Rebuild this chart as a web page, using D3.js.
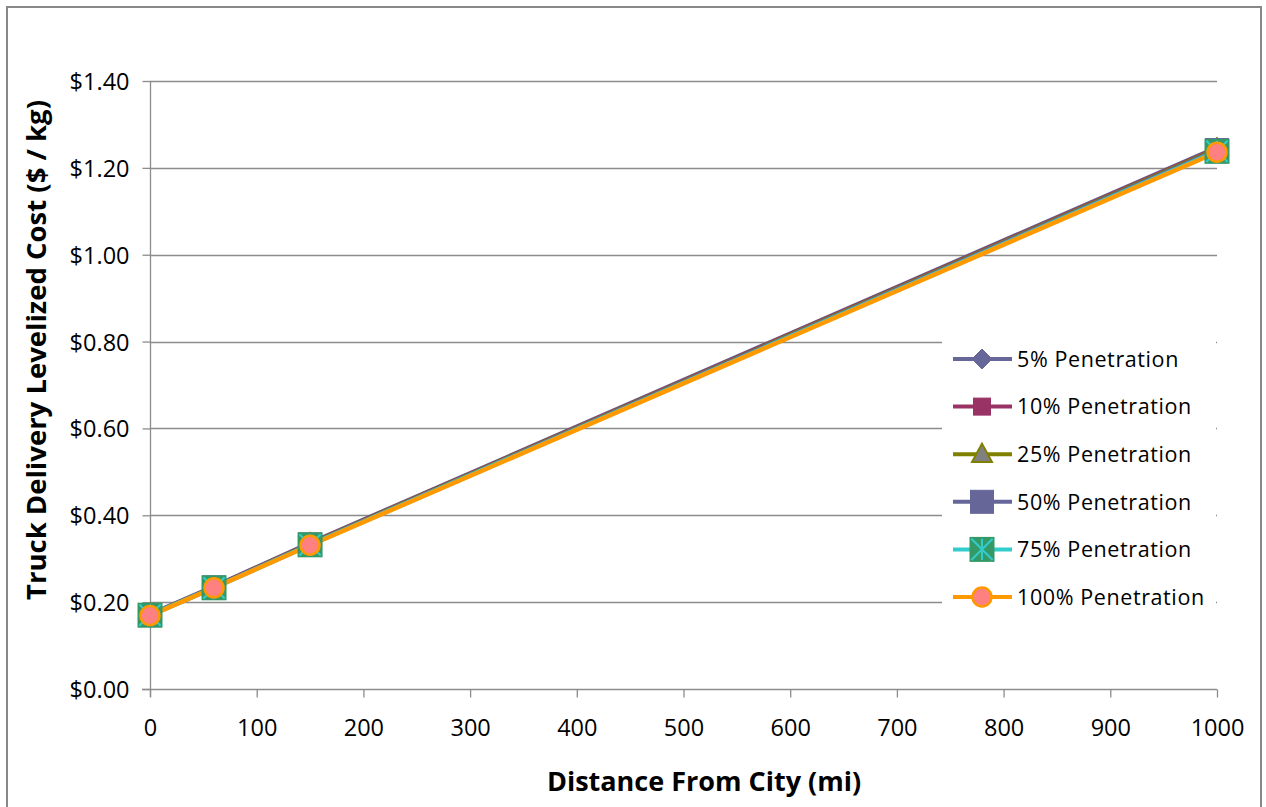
<!DOCTYPE html>
<html>
<head>
<meta charset="utf-8">
<script src="https://cdn.jsdelivr.net/npm/d3@7"></script>
<style>
  body { margin: 0; background: #fff; }
  svg { display: block; }
  text { font-family: "Open Sans", "Liberation Sans", sans-serif; fill: #000; }
</style>
</head>
<body>
<svg id="chart" width="1266" height="807"></svg>
<script>
// ---- data ----
const distances = [0, 60, 150, 1000];
const seriesNames = ["5% Penetration", "10% Penetration", "25% Penetration", "50% Penetration", "75% Penetration", "100% Penetration"];
const pen5   = [0.172, 0.236, 0.336, 1.247];
const pen10  = [0.171, 0.235, 0.335, 1.245];
const pen25  = [0.171, 0.234, 0.334, 1.243];
const pen50  = [0.170, 0.234, 0.333, 1.241];
const pen75  = [0.170, 0.233, 0.332, 1.238];
const pen100 = [0.169, 0.233, 0.331, 1.236];
const xTicks = [0, 100, 200, 300, 400, 500, 600, 700, 800, 900, 1000];
const yTicks = [0, 0.2, 0.4, 0.6, 0.8, 1.0, 1.2, 1.4];

const seriesValues = [pen5, pen10, pen25, pen50, pen75, pen100];
const styles = [
  { line: "#666699", marker: "diamond", fill: "#666699", stroke: "#666699", size: 10 },
  { line: "#993366", marker: "square", fill: "#993366", stroke: "#993366", size: 8.5 },
  { line: "#808000", marker: "triangle", fill: "#808080", stroke: "#808000", size: 10.5 },
  { line: "#666699", marker: "square", fill: "#666699", stroke: "#666699", size: 11.5 },
  { line: "#33cccc", marker: "star", fill: "#339966", stroke: "#33cccc", size: 12.5 },
  { line: "#ff9900", marker: "circle", fill: "#ff8080", stroke: "#ff9900", size: 9.5 }
];

const svg = d3.select("#chart");

// outer border
svg.append("rect").attr("x", 7).attr("y", 7).attr("width", 1254).attr("height", 806)
  .attr("fill", "none").attr("stroke", "#888").attr("stroke-width", 2);

const x = d3.scaleLinear().domain([0, 1000]).range([150, 1217]);
const y = d3.scaleLinear().domain([0, 1.4]).range([689, 81]);

// gridlines
svg.append("g").selectAll("line").data(yTicks.slice(1)).join("line")
  .attr("x1", 150).attr("x2", 1217)
  .attr("y1", d => Math.round(y(d)) + 0.5).attr("y2", d => Math.round(y(d)) + 0.5)
  .attr("stroke", "#8c8c8c").attr("stroke-width", 1.3);

// y axis
const yAxis = d3.axisLeft(y).tickValues(yTicks).tickSize(8).tickPadding(13)
  .tickFormat(d => "$" + d3.format(".2f")(d));
const gy = svg.append("g").attr("transform", "translate(150.5,0)").call(yAxis);
gy.attr("font-size", null).attr("font-family", null);
gy.select(".domain").attr("stroke", "#8c8c8c").attr("stroke-width", 1.3).attr("d", "M0,81V697");
gy.selectAll(".tick line").attr("stroke", "#8c8c8c").attr("stroke-width", 1.3);
gy.selectAll(".tick text").style("font-size", "23.5px").attr("fill", "#000").attr("dy", "0.36em");

// x axis
const xAxis = d3.axisBottom(x).tickValues(xTicks).tickSize(8).tickPadding(22).tickFormat(d3.format("d"));
const gx = svg.append("g").attr("transform", "translate(0,689.5)").call(xAxis);
gx.attr("font-size", null).attr("font-family", null);
gx.select(".domain").attr("stroke", "#8c8c8c").attr("stroke-width", 1.3).attr("d", "M142,0H1217");
gx.selectAll(".tick line").attr("stroke", "#8c8c8c").attr("stroke-width", 1.3);
gx.selectAll(".tick text").style("font-size", "23.5px").attr("fill", "#000");

// axis titles
svg.append("text").attr("x", 704).attr("y", 791).attr("text-anchor", "middle")
  .style("font-size", "27px").attr("font-weight", "bold").text("Distance From City (mi)");
svg.append("text").attr("transform", "translate(46,350) rotate(-90)").attr("text-anchor", "middle")
  .style("font-size", "27.5px").attr("font-weight", "bold").text("Truck Delivery Levelized Cost ($ / kg)");

// marker drawer
function drawMarker(g, st, cx, cy) {
  const s = st.size;
  if (st.marker === "diamond") {
    g.append("path").attr("d", `M${cx},${cy - s}L${cx + s},${cy}L${cx},${cy + s}L${cx - s},${cy}Z`)
      .attr("fill", st.fill).attr("stroke", st.stroke).attr("stroke-width", 1);
  } else if (st.marker === "square") {
    g.append("rect").attr("x", cx - s).attr("y", cy - s).attr("width", 2 * s).attr("height", 2 * s)
      .attr("fill", st.fill).attr("stroke", st.stroke).attr("stroke-width", 1);
  } else if (st.marker === "triangle") {
    g.append("path").attr("d", `M${cx},${cy - s}L${cx + s * 0.95},${cy + s * 0.75}L${cx - s * 0.95},${cy + s * 0.75}Z`)
      .attr("fill", st.fill).attr("stroke", st.stroke).attr("stroke-width", 2);
  } else if (st.marker === "star") {
    g.append("rect").attr("x", cx - s).attr("y", cy - s).attr("width", 2 * s).attr("height", 2 * s)
      .attr("fill", st.fill);
    const r = s * 0.85;
    g.append("path").attr("d",
      `M${cx - r},${cy - r}L${cx + r},${cy + r}M${cx + r},${cy - r}L${cx - r},${cy + r}M${cx},${cy - r}L${cx},${cy + r}`)
      .attr("stroke", st.stroke).attr("stroke-width", 2).attr("fill", "none");
  } else if (st.marker === "circle") {
    g.append("circle").attr("cx", cx).attr("cy", cy).attr("r", s)
      .attr("fill", st.fill).attr("stroke", st.stroke).attr("stroke-width", 2.5);
  }
}

// series lines
const line = d3.line().x(d => x(d[0])).y(d => y(d[1]));
const plot = svg.append("g");
seriesValues.forEach((vals, i) => {
  const pts = distances.map((d, j) => [d, vals[j]]);
  plot.append("path").datum(pts).attr("d", line)
    .attr("fill", "none").attr("stroke", styles[i].line).attr("stroke-width", 4.5)
    .attr("stroke-linejoin", "round");
});
seriesValues.forEach((vals, i) => {
  const g = plot.append("g");
  distances.forEach((d, j) => drawMarker(g, styles[i], x(d), y(vals[j])));
});

// legend
const legend = svg.append("g");
legend.append("rect").attr("x", 942).attr("y", 336).attr("width", 274).attr("height", 284).attr("fill", "#fff");
seriesNames.forEach((name, i) => {
  const ly = 359 + i * 47.6;
  legend.append("line").attr("x1", 953).attr("x2", 1012).attr("y1", ly).attr("y2", ly)
    .attr("stroke", styles[i].line).attr("stroke-width", 4);
  drawMarker(legend, styles[i], 982, ly);
  legend.append("text").attr("x", 1017).attr("y", ly).attr("dy", "0.36em")
    .style("font-size", "21.5px").attr("letter-spacing", 0.6).text(name);
});
</script>
</body>
</html>
